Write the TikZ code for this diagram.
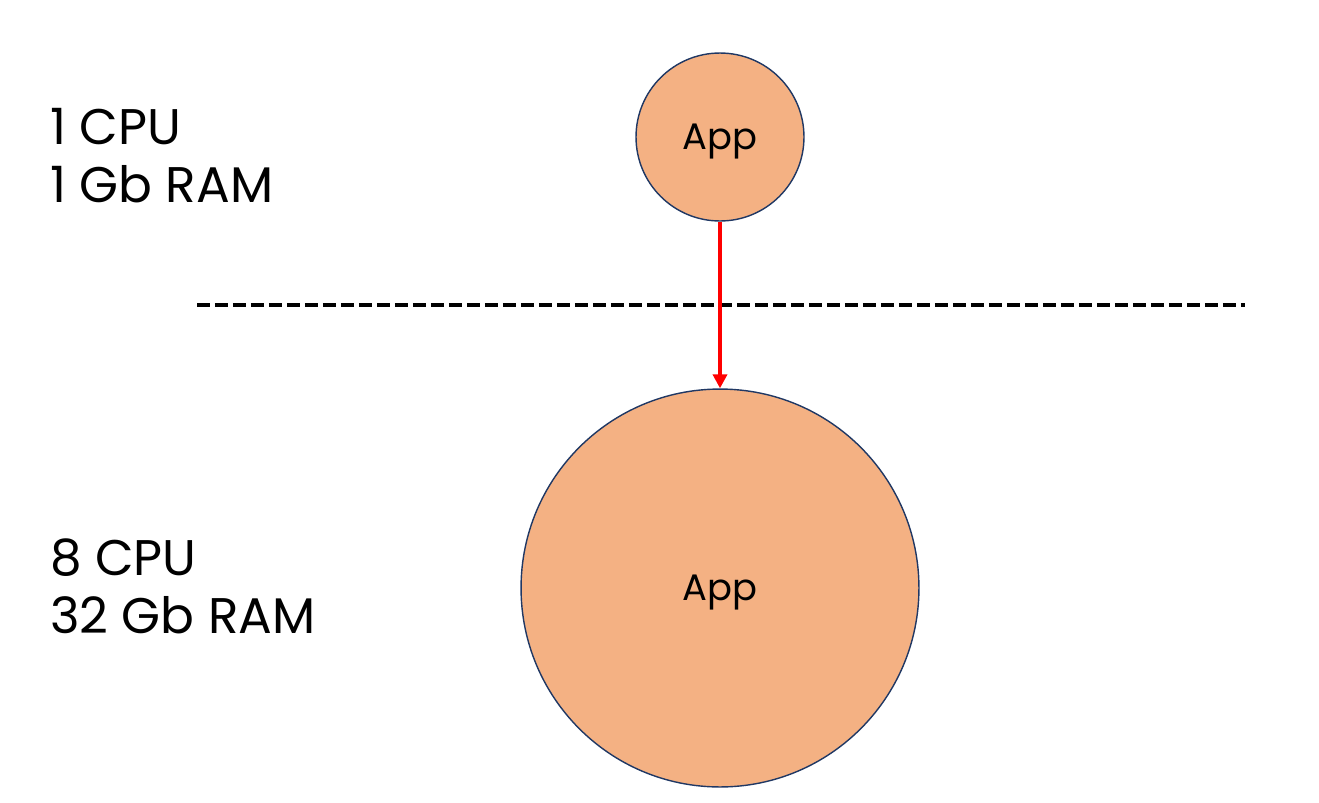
\documentclass[tikz,border=0pt]{standalone}
\usepackage{fontspec}
\setmainfont{Poppins}
\usetikzlibrary{arrows.meta}
\definecolor{appfill}{HTML}{F4B183}
\definecolor{appline}{HTML}{203864}
\begin{document}
\begin{tikzpicture}[x=0.02cm,y=-0.02cm,
	app/.style={circle,fill=appfill,draw=appline,line width=0.8pt,inner sep=0pt,text depth=0pt,font=\fontsize{21}{25}\selectfont},
	spec/.style={anchor=base west,align=left,inner sep=0pt,font=\fontsize{28.5}{32.5}\selectfont}]
	\useasboundingbox (0,0) rectangle (1319,802);
	
	% specs (base = last line)
	\node[spec] (small) at (50,202) {1 CPU\\1 Gb RAM};
	\node[spec] (large) at (50,633) {8 CPU\\32 Gb RAM};
	
	% apps
	\node[app,minimum size=3.36cm] (app1) at (720,137) {App};
	\node[app,minimum size=7.96cm] (app2) at (720,588) {App};
	
	% separator
	\coordinate (sepl) at (197,305);
	\coordinate (sepr) at (1245,305);
	\draw[line width=0.09cm,dash pattern=on 0.26cm off 0.1cm] (sepl) -- (sepr);
	
	% scale up
	\draw[red,line width=0.08cm,-{Triangle[length=0.28cm,width=0.28cm]}] (app1.south) -- (app2.north);
\end{tikzpicture}
\end{document}
